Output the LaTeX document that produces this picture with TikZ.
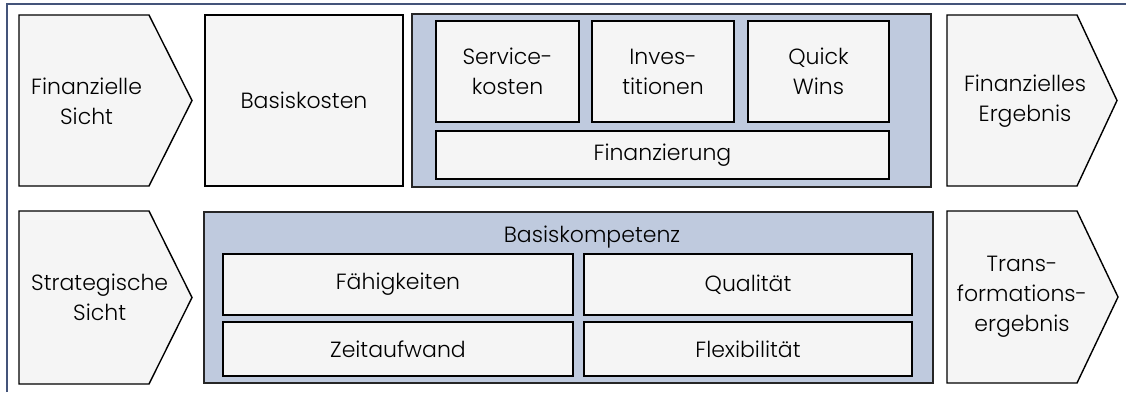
\documentclass[tikz,border=0pt]{standalone}
\usepackage{fontspec}
\setmainfont{Poppins Light}
\definecolor{framecol}{RGB}{68,84,122}
\definecolor{boxfill}{RGB}{245,245,245}
\definecolor{bluefill}{RGB}{191,202,222}
\tikzset{
  box/.style={draw=black, line width=1.4pt, fill=boxfill, inner sep=0pt, align=center},
  container/.style={draw=black!85, line width=1.4pt, fill=bluefill, inner sep=0pt},
  chev/.style={draw=black, line width=1.4pt, fill=boxfill},
  lbl/.style={align=center, inner sep=0pt, font=\fontsize{22}{30}\selectfont},
}
\begin{document}
\begin{tikzpicture}[x=1pt,y=-1pt]
\useasboundingbox (0,0) rectangle (1126,392);
\fill[white] (0,0) rectangle (1126,392);
% frame
\draw[framecol, line width=1.8pt] (7,392) -- (7,4) -- (1126,4);
% top row
\draw[chev] (19,15) -- (149,15) -- (192,100.5) -- (149,186) -- (19,186) -- cycle;
\node[lbl, anchor=west] (fs) at (31,101) {Finanzielle\\Sicht};
\node[box, minimum width=198pt, minimum height=171pt, lbl] (bk) at (304,100.5) {Basiskosten};
\node[container, minimum width=519pt, minimum height=173pt] (fin) at (671.5,100.5) {};
\node[box, minimum width=143pt, minimum height=101pt, lbl] (sk) at (507.5,71.5) {Service-\\kosten};
\node[box, minimum width=142pt, minimum height=101pt, lbl] (inv) at (663,71.5) {Inves-\\titionen};
\node[box, minimum width=141pt, minimum height=101pt, lbl] (qw) at (818.5,71.5) {Quick\\Wins};
\node[box, minimum width=453pt, minimum height=48pt, lbl] (fz) at (662.5,155) {Finanzierung};
\draw[chev] (947,15) -- (1077,15) -- (1117,100.5) -- (1077,186) -- (947,186) -- cycle;
\node[lbl] (fe) at (1025,101) {Finanzielles\\Ergebnis};
% bottom row
\draw[chev] (19,211) -- (149,211) -- (192,297.5) -- (149,384) -- (19,384) -- cycle;
\node[lbl, anchor=west] (ss) at (31,297) {Strategische\\Sicht};
\node[container, minimum width=729pt, minimum height=171pt] (bkp) at (568.5,297.5) {};
\node[lbl] (bkl) at (592,237) {Basiskompetenz};
\node[box, minimum width=350pt, minimum height=61pt, lbl] (fa) at (398,284.5) {Fähigkeiten};
\node[box, minimum width=328pt, minimum height=61pt, lbl] (ql) at (748,284.5) {Qualität};
\node[box, minimum width=350pt, minimum height=54pt, lbl] (za) at (398,349) {Zeitaufwand};
\node[box, minimum width=328pt, minimum height=54pt, lbl] (fl) at (748,349) {Flexibilität};
\draw[chev] (947,211) -- (1077,211) -- (1118,297) -- (1077,383) -- (947,383) -- cycle;
\node[lbl] (te) at (1022,297) {Trans-\\formations-\\ergebnis};
\end{tikzpicture}
\end{document}
